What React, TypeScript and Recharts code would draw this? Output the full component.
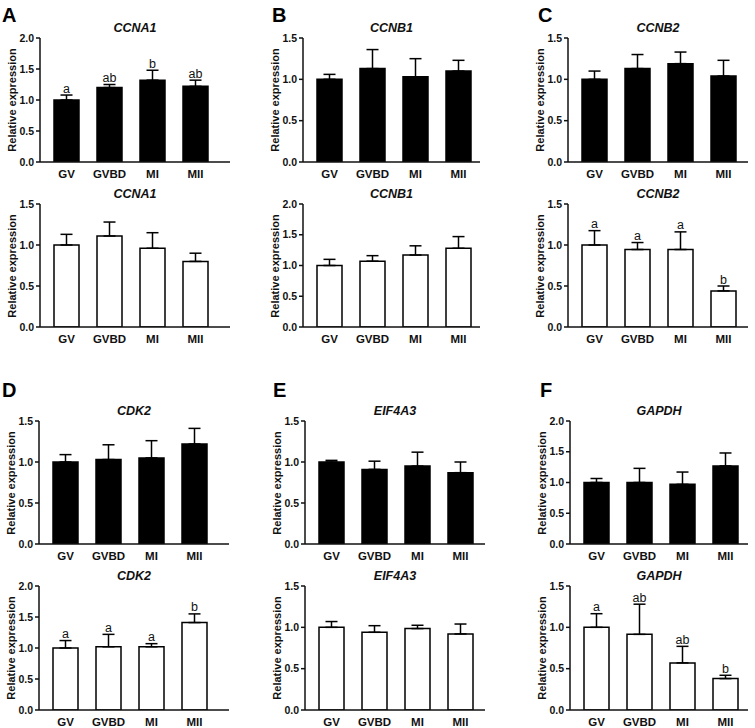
import React from 'react';
import { BarChart, Bar, XAxis, YAxis, ErrorBar, LabelList } from 'recharts';

const stages = ['GV', 'GVBD', 'MI', 'MII'];

// A – CCNA1
const ccna1TopMean = [1.0, 1.2, 1.32, 1.22];
const ccna1TopErr = [0.08, 0.05, 0.16, 0.1];
const ccna1TopSig = ['a', 'ab', 'b', 'ab'];
const ccna1BotMean = [1.0, 1.11, 0.96, 0.8];
const ccna1BotErr = [0.13, 0.17, 0.19, 0.1];

// B – CCNB1
const ccnb1TopMean = [1.0, 1.13, 1.03, 1.1];
const ccnb1TopErr = [0.06, 0.23, 0.22, 0.13];
const ccnb1BotMean = [1.0, 1.07, 1.17, 1.28];
const ccnb1BotErr = [0.1, 0.09, 0.15, 0.19];

// C – CCNB2
const ccnb2TopMean = [1.0, 1.13, 1.19, 1.04];
const ccnb2TopErr = [0.1, 0.17, 0.14, 0.19];
const ccnb2BotMean = [1.0, 0.945, 0.945, 0.44];
const ccnb2BotErr = [0.175, 0.085, 0.215, 0.06];
const ccnb2BotSig = ['a', 'a', 'a', 'b'];

// D – CDK2
const cdk2TopMean = [1.0, 1.03, 1.05, 1.22];
const cdk2TopErr = [0.09, 0.18, 0.21, 0.19];
const cdk2BotMean = [1.0, 1.02, 1.02, 1.41];
const cdk2BotErr = [0.12, 0.2, 0.05, 0.14];
const cdk2BotSig = ['a', 'a', 'a', 'b'];

// E – EIF4A3
const eif4a3TopMean = [1.0, 0.91, 0.95, 0.87];
const eif4a3TopErr = [0.02, 0.1, 0.17, 0.13];
const eif4a3BotMean = [1.0, 0.94, 0.985, 0.92];
const eif4a3BotErr = [0.07, 0.08, 0.04, 0.12];

// F – GAPDH
const gapdhTopMean = [1.0, 1.0, 0.97, 1.27];
const gapdhTopErr = [0.065, 0.23, 0.2, 0.21];
const gapdhBotMean = [1.0, 0.915, 0.57, 0.38];
const gapdhBotErr = [0.165, 0.365, 0.2, 0.04];
const gapdhBotSig = ['a', 'ab', 'ab', 'b'];

const FONT = '"Liberation Sans", Arial, Helvetica, sans-serif';
const INK = '#111';

type PanelProps = {
  title: string;
  mean: number[];
  err: number[];
  sig?: string[];
  max: number;
  filled: boolean;
  axisX: number;
  plotW: number;
  plotTop: number;
  plotBottom: number;
};

function Panel({ title, mean, err, sig, max, filled, axisX, plotW, plotTop, plotBottom }: PanelProps) {
  const data = stages.map((s, i) => ({
    stage: s,
    value: mean[i],
    err: [0, err[i]],
    sig: sig ? sig[i] : '',
  }));
  const ml = 40;
  const mt = 6;
  const mr = 6;
  const xh = 24;
  const H = plotBottom - plotTop;
  const width = ml + plotW + mr;
  const height = mt + H + xh;
  const ticks: number[] = [];
  for (let v = 0; v <= max + 1e-9; v += 0.5) ticks.push(Math.round(v * 10) / 10);

  const renderSig = (props: any) => {
    const vb = props.viewBox || props;
    const x = vb.x ?? props.x;
    const y = vb.y ?? props.y;
    const w = vb.width ?? props.width;
    const h = vb.height ?? props.height;
    const idx = props.index ?? 0;
    const errPx = (err[idx] / mean[idx]) * h;
    return (
      <text
        x={x + w / 2}
        y={y - errPx - 2.5}
        textAnchor="middle"
        fontSize={12.5}
        fontFamily={FONT}
        fill={INK}
      >
        {props.value}
      </text>
    );
  };

  return (
    <>
      <div
        style={{
          position: 'absolute',
          left: axisX + plotW / 2,
          top: plotTop - 10,
          transform: 'translate(-50%, -50%)',
          fontFamily: FONT,
          fontSize: 12.5,
          fontWeight: 'bold',
          fontStyle: 'italic',
          color: INK,
          whiteSpace: 'nowrap',
        }}
      >
        {title}
      </div>
      <div
        style={{
          position: 'absolute',
          left: axisX - 28,
          top: plotTop + H / 2,
          transform: 'translate(-50%, -50%) rotate(-90deg)',
          fontFamily: FONT,
          fontSize: 11,
          fontWeight: 'bold',
          color: INK,
          whiteSpace: 'nowrap',
        }}
      >
        Relative expression
      </div>
      <div style={{ position: 'absolute', left: axisX - ml, top: plotTop - mt }}>
        <BarChart
          width={width}
          height={height}
          data={data}
          margin={{ top: mt, right: mr, bottom: 0, left: 0 }}
        >
          <XAxis
            dataKey="stage"
            interval={0}
            tickLine={false}
            axisLine={{ stroke: INK, strokeWidth: 1.5 }}
            tick={{ fill: INK, fontSize: 11.5, fontWeight: 'bold', fontFamily: FONT }}
            padding={{ left: 5, right: Math.max(0, plotW - 177) }}
            height={xh}
          />
          <YAxis
            width={ml}
            type="number"
            domain={[0, max]}
            ticks={ticks}
            interval={0}
            allowDataOverflow
            tickFormatter={(v: number) => v.toFixed(1)}
            axisLine={{ stroke: INK, strokeWidth: 1.5 }}
            tickLine={{ stroke: INK, strokeWidth: 1.5 }}
            tickSize={4}
            tick={{ fill: INK, fontSize: 10.5, fontWeight: 'bold', fontFamily: FONT }}
          />
          <Bar
            dataKey="value"
            fill={filled ? '#000' : '#fff'}
            stroke="#000"
            strokeWidth={1.5}
            barSize={25}
            isAnimationActive={false}
          >
            <ErrorBar dataKey="err" width={6} stroke="#000" strokeWidth={1.5} direction="y" isAnimationActive={false} />
            {sig ? <LabelList dataKey="sig" content={renderSig} /> : null}
          </Bar>
        </BarChart>
      </div>
    </>
  );
}

const letterStyle = (left: number, top: number): React.CSSProperties => ({
  position: 'absolute',
  left,
  top,
  fontFamily: FONT,
  fontSize: 20,
  fontWeight: 'bold',
  color: '#000',
  lineHeight: '20px',
});

export default function App() {
  const r1 = { plotTop: 38, plotBottom: 162 };
  const r2 = { plotTop: 204, plotBottom: 327 };
  const r3 = { plotTop: 421, plotBottom: 544 };
  const r4 = { plotTop: 586, plotBottom: 710 };
  const cA12 = { axisX: 40, plotW: 190 };
  const cB12 = { axisX: 303, plotW: 177 };
  const cC12 = { axisX: 568, plotW: 180 };
  const cA34 = { axisX: 39, plotW: 190 };
  const cB34 = { axisX: 305, plotW: 180 };
  const cC34 = { axisX: 570, plotW: 178 };

  return (
    <div
      style={{
        position: 'absolute',
        left: 0,
        top: 0,
        width: 755,
        height: 728,
        background: '#fff',
        overflow: 'hidden',
      }}
    >
      <div style={letterStyle(2, 5)}>A</div>
      <div style={letterStyle(272, 5)}>B</div>
      <div style={letterStyle(538, 5)}>C</div>
      <div style={letterStyle(2, 380)}>D</div>
      <div style={letterStyle(273, 380)}>E</div>
      <div style={letterStyle(540, 380)}>F</div>

      <Panel title="CCNA1" mean={ccna1TopMean} err={ccna1TopErr} sig={ccna1TopSig} max={2.0} filled {...cA12} {...r1} />
      <Panel title="CCNB1" mean={ccnb1TopMean} err={ccnb1TopErr} max={1.5} filled {...cB12} {...r1} />
      <Panel title="CCNB2" mean={ccnb2TopMean} err={ccnb2TopErr} max={1.5} filled {...cC12} {...r1} />

      <Panel title="CCNA1" mean={ccna1BotMean} err={ccna1BotErr} max={1.5} filled={false} {...cA12} {...r2} />
      <Panel title="CCNB1" mean={ccnb1BotMean} err={ccnb1BotErr} max={2.0} filled={false} {...cB12} {...r2} />
      <Panel title="CCNB2" mean={ccnb2BotMean} err={ccnb2BotErr} sig={ccnb2BotSig} max={1.5} filled={false} {...cC12} {...r2} />

      <Panel title="CDK2" mean={cdk2TopMean} err={cdk2TopErr} max={1.5} filled {...cA34} {...r3} />
      <Panel title="EIF4A3" mean={eif4a3TopMean} err={eif4a3TopErr} max={1.5} filled {...cB34} {...r3} />
      <Panel title="GAPDH" mean={gapdhTopMean} err={gapdhTopErr} max={2.0} filled {...cC34} {...r3} />

      <Panel title="CDK2" mean={cdk2BotMean} err={cdk2BotErr} sig={cdk2BotSig} max={2.0} filled={false} {...cA34} {...r4} />
      <Panel title="EIF4A3" mean={eif4a3BotMean} err={eif4a3BotErr} max={1.5} filled={false} {...cB34} {...r4} />
      <Panel title="GAPDH" mean={gapdhBotMean} err={gapdhBotErr} sig={gapdhBotSig} max={1.5} filled={false} {...cC34} {...r4} />
    </div>
  );
}
